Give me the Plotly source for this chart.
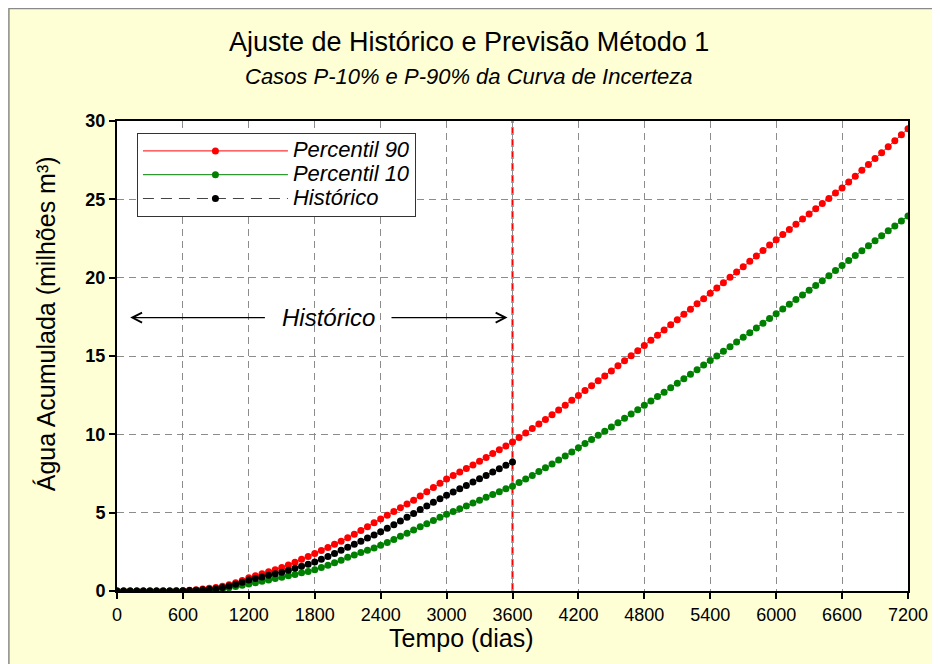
import plotly.graph_objects as go

# ---------------- data ----------------
dias = list(range(0, 7201, 60))          # time steps (days) for forecasts
dias_hist = list(range(0, 3601, 60))     # time steps (days) for history

percentil_90 = [
    0, 0, 0, 0, 0, 0, 0, 0, 0, 0.01,
    0.02, 0.05, 0.08, 0.12, 0.17, 0.22, 0.30, 0.40, 0.52, 0.67,
    0.85, 0.98, 1.10, 1.23, 1.36, 1.50, 1.66, 1.83, 2.02, 2.20,
    2.40, 2.58, 2.78, 2.98, 3.18, 3.40, 3.63, 3.86, 4.10, 4.35,
    4.60, 4.84, 5.08, 5.32, 5.56, 5.80, 6.07, 6.34, 6.60, 6.88,
    7.15, 7.38, 7.60, 7.82, 8.05, 8.28, 8.52, 8.77, 9.01, 9.26,
    9.51, 9.79, 10.08, 10.37, 10.66, 10.95, 11.25, 11.55, 11.86, 12.17,
    12.48, 12.79, 13.10, 13.42, 13.73, 14.05, 14.37, 14.69, 15.02, 15.34,
    15.67, 16.00, 16.33, 16.66, 16.99, 17.32, 17.66, 17.99, 18.33, 18.66,
    19.00, 19.34, 19.68, 20.02, 20.36, 20.70, 21.05, 21.39, 21.73, 22.08,
    22.42, 22.75, 23.08, 23.41, 23.74, 24.07, 24.40, 24.73, 25.06, 25.40,
    25.73, 26.10, 26.47, 26.85, 27.23, 27.60, 27.98, 28.36, 28.74, 29.12,
    29.50,
]

percentil_10 = [
    0, 0, 0, 0, 0, 0, 0, 0, 0, 0,
    0, 0, 0.02, 0.04, 0.06, 0.08, 0.13, 0.20, 0.28, 0.36,
    0.45, 0.53, 0.62, 0.70, 0.79, 0.88, 0.97, 1.06, 1.16, 1.25,
    1.35, 1.50, 1.65, 1.80, 1.97, 2.15, 2.30, 2.45, 2.60, 2.75,
    2.92, 3.10, 3.29, 3.49, 3.69, 3.90, 4.10, 4.30, 4.50, 4.70,
    4.90, 5.07, 5.25, 5.43, 5.61, 5.80, 5.98, 6.16, 6.34, 6.52,
    6.69, 6.92, 7.15, 7.38, 7.62, 7.86, 8.10, 8.36, 8.62, 8.88,
    9.15, 9.41, 9.67, 9.94, 10.20, 10.47, 10.74, 11.02, 11.29, 11.57,
    11.85, 12.13, 12.41, 12.69, 12.98, 13.26, 13.55, 13.84, 14.13, 14.42,
    14.71, 15.00, 15.30, 15.59, 15.89, 16.19, 16.49, 16.79, 17.09, 17.39,
    17.69, 18.00, 18.30, 18.60, 18.90, 19.20, 19.50, 19.81, 20.13, 20.45,
    20.78, 21.09, 21.41, 21.72, 22.04, 22.35, 22.67, 22.99, 23.30, 23.62,
    23.94,
]

historico = [
    0, 0, 0, 0, 0, 0, 0, 0, 0, 0,
    0.01, 0.03, 0.05, 0.08, 0.11, 0.15, 0.22, 0.32, 0.43, 0.56,
    0.70, 0.80, 0.90, 1.00, 1.10, 1.20, 1.33, 1.45, 1.58, 1.71,
    1.85, 2.03, 2.21, 2.40, 2.60, 2.80, 2.99, 3.18, 3.38, 3.58,
    3.78, 4.00, 4.23, 4.47, 4.71, 4.95, 5.20, 5.43, 5.66, 5.89,
    6.11, 6.32, 6.53, 6.74, 6.95, 7.16, 7.37, 7.59, 7.80, 8.02,
    8.24,
]

fim_historico = 3600
x_ticks = list(range(0, 7201, 600))
y_ticks = [0, 5, 10, 15, 20, 25, 30]
nomes = ["Percentil 90", "Percentil 10", "Histórico"]

# ---------------- layout helpers ----------------
# the page body adds an 8 px offset, so the figure is a bit smaller than the window
OFF = 8
WIN_W, WIN_H = 940, 664
W, H = WIN_W - OFF, WIN_H - OFF
PL, PT, PR, PB = 117, 121, 911, 591      # plot area in window pixels
PW, PH = PR - PL, PB - PT
FONT = "Liberation Sans, Arial, sans-serif"


def xp(px):
    return (px - PL) / PW


def yp(py):
    return (PB - py) / PH


def leg(name):
    return '<span style="font-size:22px">' + name + '</span>'


fig = go.Figure()

fig.add_trace(go.Scatter(
    x=dias, y=percentil_90, name=leg(nomes[0]), mode="lines+markers",
    line=dict(color="#FF0000", width=1),
    marker=dict(color="#FF0000", size=7),
))
fig.add_trace(go.Scatter(
    x=dias, y=percentil_10, name=leg(nomes[1]), mode="lines+markers",
    line=dict(color="#008000", width=1),
    marker=dict(color="#008000", size=7),
))
fig.add_trace(go.Scatter(
    x=dias_hist, y=historico, name=leg(nomes[2]), mode="lines+markers",
    line=dict(color="#444444", width=1, dash="11px,7px"),
    marker=dict(color="#000000", size=7),
))

axis_common = dict(
    showgrid=True, gridcolor="#8c8c8c", gridwidth=1, griddash="7px,5px",
    ticks="outside", ticklen=6, tickwidth=2, tickcolor="#000000",
    showline=True, linecolor="#000000", linewidth=2, mirror=True,
    zeroline=False, tickfont=dict(family=FONT, size=18, color="#000000"),
)

fig.update_xaxes(range=[0, 7200], tickvals=x_ticks, **axis_common)
fig.update_yaxes(range=[0, 30], tickvals=y_ticks, **axis_common)
fig.update_yaxes(tickfont=dict(family=FONT, size=18, color="#000000", weight="bold"))

shapes = [
    # end of history
    dict(type="line", xref="x", yref="y", x0=fim_historico, x1=fim_historico, y0=0, y1=30,
         line=dict(color="#FF0000", width=2, dash="8px,4px"), layer="below"),
    # grey frame around the chart
    dict(type="rect", xref="paper", yref="paper", x0=xp(OFF + 0.5), x1=xp(937), y0=yp(WIN_H + 5), y1=yp(OFF + 0.5),
         fillcolor="rgba(0,0,0,0)", line=dict(color="#8a8a8a", width=1.5), layer="above"),
]

y_arrow = 17.45
annotations = [
    dict(text="Ajuste de Histórico e Previsão Método 1", xref="paper", yref="paper",
         x=xp(470), y=yp(42), showarrow=False, xanchor="center", yanchor="middle",
         font=dict(family=FONT, size=27, color="#000000")),
    dict(text="<i>Casos P-10% e P-90% da Curva de Incerteza</i>", xref="paper", yref="paper",
         x=xp(470), y=yp(76), showarrow=False, xanchor="center", yanchor="middle",
         font=dict(family=FONT, size=22, color="#000000")),
    dict(text="Tempo (dias)", xref="paper", yref="paper",
         x=xp(463), y=yp(638), showarrow=False, xanchor="center", yanchor="middle",
         font=dict(family=FONT, size=25, color="#000000")),
    dict(text="Água Acumulada (milhões m³)", xref="paper", yref="paper", textangle=-90,
         x=xp(46), y=yp(324), showarrow=False, xanchor="center", yanchor="middle",
         font=dict(family=FONT, size=25, color="#000000")),
    dict(text="<i>Histórico</i>", xref="x", yref="y", x=1922, y=y_arrow, showarrow=False,
         xanchor="center", yanchor="middle", font=dict(family=FONT, size=24, color="#000000")),
    dict(text="", xref="x", yref="y", axref="x", ayref="y", x=120, y=y_arrow, ax=1360, ay=y_arrow,
         showarrow=True, arrowhead=5, arrowsize=1.6, arrowwidth=1.2, arrowcolor="#000000"),
    dict(text="", xref="x", yref="y", axref="x", ayref="y", x=3555, y=y_arrow, ax=2485, ay=y_arrow,
         showarrow=True, arrowhead=5, arrowsize=1.6, arrowwidth=1.2, arrowcolor="#000000"),
]

fig.update_layout(
    width=W, height=H, autosize=False,
    margin=dict(l=PL - OFF, r=WIN_W - PR, t=PT - OFF, b=WIN_H - PB, pad=0),
    paper_bgcolor="#FFFFD6", plot_bgcolor="#FFFFFF",
    font=dict(family=FONT, color="#000000"),
    showlegend=True,
    legend=dict(
        x=xp(137), y=yp(133), xanchor="left", yanchor="top",
        bgcolor="#FFFFFF", bordercolor="#333333", borderwidth=1,
        font=dict(family=FONT, size=16, color="#000000", style="italic"),
        itemwidth=145, tracegroupgap=0,
    ),
    shapes=shapes,
    annotations=annotations,
)

fig.write_html("out.html")
